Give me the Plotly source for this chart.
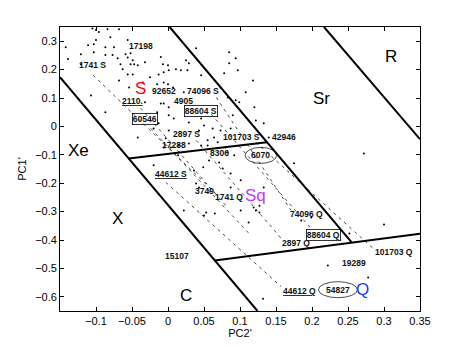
import plotly.graph_objects as go

# ---- scattered sample points (PC2', PC1') ----
dot_x = [-0.142,-0.139,-0.121,-0.121,-0.111,-0.105,-0.103,-0.103,-0.100,-0.100,-0.096,-0.087,-0.087,-0.084,
         -0.080,-0.077,-0.075,-0.070,-0.068,-0.068,-0.066,-0.063,-0.059,-0.056,-0.056,-0.056,-0.054,-0.052,
         -0.052,-0.049,-0.049,-0.047,-0.042,-0.035,-0.032,-0.025,-0.015,-0.010,-0.007,-0.006,0.000,0.000,
         0.001,0.007,0.011,0.018,0.027,-0.013,
         -0.107,-0.087,-0.042,-0.032,-0.010,
         -0.006,0.025,0.029,0.039,0.046,0.022,0.085,0.094,0.085,0.078,0.097,0.073,0.108,0.118,0.083,0.094,
         0.099,0.120,0.090,0.133,0.122,0.140,-0.006,0.001,-0.015,0.001,0.008,-0.013,-0.020,0.001,0.029,
         0.046,0.050,0.043,0.062,0.073,0.087,0.064,0.055,0.046,0.080,-0.003,-0.006,
         -0.020,0.036,0.049,0.057,0.071,0.076,0.087,0.092,0.039,0.043,0.087,0.101,0.022,0.053,0.101,0.119,
         0.122,0.127,0.004,0.015,0.029,0.055,0.069,0.014,0.083,
         0.065,0.112,0.132,0.133,0.050,0.127,0.185,0.199,0.222,0.278,0.300,0.175,0.272,0.252]
dot_y = [0.279,0.237,0.254,0.219,0.286,0.345,0.289,0.261,0.339,0.304,0.332,0.279,0.251,0.342,
         0.314,0.251,0.279,0.240,0.342,0.162,0.219,0.201,0.254,0.304,0.243,0.183,0.137,0.219,
         0.258,0.233,0.183,0.219,0.215,0.155,0.226,0.173,0.148,0.244,0.219,0.155,0.215,0.148,
         0.198,0.137,0.201,0.198,0.198,0.183,
         0.109,0.050,-0.039,0.085,0.081,
         0.191,0.233,0.222,0.275,0.180,0.120,0.261,0.240,0.222,0.187,0.198,0.137,0.120,0.162,0.102,0.092,
         0.085,0.067,0.039,0.011,0.021,-0.039,0.081,0.067,0.050,0.039,0.028,0.011,-0.007,-0.014,0.014,
         0.028,0.003,-0.014,-0.007,-0.014,-0.007,-0.039,-0.049,-0.067,-0.074,-0.042,-0.074,
         -0.137,-0.155,-0.144,-0.120,-0.127,-0.148,-0.166,-0.102,-0.201,-0.215,-0.215,-0.190,-0.296,-0.303,
         -0.296,-0.286,-0.296,-0.303,-0.074,-0.067,-0.060,-0.067,-0.056,-0.102,-0.091,
         -0.307,-0.338,-0.607,-0.215,-0.314,-0.279,-0.331,-0.321,-0.490,-0.532,-0.345,-0.130,-0.095,-0.377]

# ---- thick region boundaries (start x, end x, start y, end y) ----
bound_x0 = [-0.15, 0.0023, 0.2167, -0.0546, 0.065]
bound_x1 = [0.1243, 0.2554, 0.35, 0.1375, 0.35]
bound_y0 = [0.173, 0.35, 0.35, -0.113, -0.472]
bound_y1 = [-0.65, -0.409, -0.045, -0.0555, -0.378]

# ---- dashed S -> Q paths ----
dash_x0 = [-0.104, -0.038, -0.024, -0.003, 0.039, 0.067, 0.060, 0.122]
dash_y0 = [0.180, 0.064, -0.007, -0.197, -0.049, 0.102, 0.043, -0.056]
dash_x1 = [0.066, 0.080, 0.115, 0.157, 0.160, 0.171, 0.199, 0.285]
dash_y1 = [-0.236, -0.278, -0.384, -0.564, -0.402, -0.296, -0.360, -0.430]

# ---- sample labels ----
lab_text = ["17198", "1741 S", "92652", "74096 S", "4905", "88604 S", "2110.", "60546",
            "2897 S", "101703 S", "42946", "17288", "8306", "6070", "44612 S", "3749",
            "1741 Q", "74096 Q", "88604 Q", "2897 Q", "101703 Q", "19289", "44612 Q",
            "54827", "15107"]
lab_x = [-0.037, -0.105, -0.006, 0.048, 0.022, 0.046, -0.049, -0.032,
         0.026, 0.102, 0.161, 0.008, 0.071, 0.129, 0.004, 0.050,
         0.085, 0.193, 0.216, 0.178, 0.314, 0.259, 0.183,
         0.236, 0.013]
lab_y = [0.282, 0.215, 0.124, 0.124, 0.089, 0.056, 0.088, 0.025,
         -0.028, -0.039, -0.039, -0.067, -0.095, -0.102, -0.166, -0.229,
         -0.247, -0.310, -0.381, -0.412, -0.441, -0.480, -0.578,
         -0.575, -0.455]
lab_style = ["", "", "", "", "", "box", "u", "box",
             "", "", "", "", "", "ell", "u", "",
             "", "", "box", "", "", "", "u",
             "ell", ""]

# ---- region names ----
reg_text = ["S", "Sr", "R", "Xe", "X", "C", "Sq", "Q"]
reg_x = [-0.038, 0.213, 0.310, -0.124, -0.070, 0.025, 0.121, 0.270]
reg_y = [0.134, 0.099, 0.247, -0.084, -0.324, -0.596, -0.243, -0.575]
reg_color = ["#ff0000", "black", "black", "black", "black", "black", "#cc33ff", "#1a3cff"]

xtick_vals = [-0.1, -0.05, 0, 0.05, 0.1, 0.15, 0.2, 0.25, 0.3, 0.35]
xtick_text = ["\u22120.1", "\u22120.05", "0", "0.05", "0.1", "0.15", "0.2", "0.25", "0.3", "0.35"]
ytick_vals = [0.3, 0.2, 0.1, 0, -0.1, -0.2, -0.3, -0.4, -0.5, -0.6]
ytick_text = ["0.3", "0.2", "0.1", "0", "\u22120.1", "\u22120.2", "\u22120.3", "\u22120.4", "\u22120.5", "\u22120.6"]

FONT = "Liberation Sans, Arial, Helvetica, sans-serif"

fig = go.Figure()

# dashed paths
for i in range(len(dash_x0)):
    fig.add_trace(go.Scatter(x=[dash_x0[i], dash_x1[i]], y=[dash_y0[i], dash_y1[i]],
                             mode="lines", line=dict(color="black", width=0.7, dash="3px,4px"),
                             hoverinfo="skip", showlegend=False))

# boundaries
for i in range(len(bound_x0)):
    fig.add_trace(go.Scatter(x=[bound_x0[i], bound_x1[i]], y=[bound_y0[i], bound_y1[i]],
                             mode="lines", line=dict(color="black", width=2),
                             hoverinfo="skip", showlegend=False))

# points
fig.add_trace(go.Scatter(x=dot_x, y=dot_y, mode="markers",
                         marker=dict(color="black", size=2), showlegend=False))

annotations = []
shapes = []
for t, x, y, s in zip(lab_text, lab_x, lab_y, lab_style):
    txt = f"<u>{t}</u>" if s == "u" else t
    ann = dict(x=x, y=y, text=f"<b>{txt}</b>", showarrow=False, xref="x", yref="y",
               font=dict(family=FONT, size=8.5, color="#111111"))
    if s == "box":
        ann.update(bordercolor="black", borderwidth=0.8, borderpad=0)
    annotations.append(ann)
    if s == "ell":
        half = 3.7 * len(t) + 1
        shapes.append(dict(type="circle", xref="x", yref="y", xsizemode="pixel", ysizemode="pixel",
                           xanchor=x, yanchor=y, x0=-half, x1=half, y0=-8, y1=8,
                           line=dict(color="black", width=0.7)))

for t, x, y, c in zip(reg_text, reg_x, reg_y, reg_color):
    annotations.append(dict(x=x, y=y, text=t, showarrow=False, xref="x", yref="y",
                            font=dict(family=FONT, size=17, color=c)))

fig.update_layout(
    width=463, height=348,
    margin=dict(l=52, r=51, t=19, b=45),
    paper_bgcolor="white", plot_bgcolor="white",
    annotations=annotations, shapes=shapes,
    font=dict(family=FONT, size=11, color="black"),
    xaxis=dict(range=[-0.15, 0.35], tickvals=xtick_vals, ticktext=xtick_text, automargin=False,
               ticks="inside", ticklen=4, tickcolor="black", showgrid=False, zeroline=False,
               showline=True, linecolor="black", linewidth=0.8, mirror="ticks",
               title=dict(text="PC2'", standoff=0, font=dict(size=11))),
    yaxis=dict(range=[-0.65, 0.35], tickvals=ytick_vals, ticktext=ytick_text, automargin=False,
               ticks="inside", ticklen=4, tickcolor="black", showgrid=False, zeroline=False,
               showline=True, linecolor="black", linewidth=0.8, mirror="ticks",
               title=dict(text="PC1'", standoff=6, font=dict(size=11))),
)

fig.write_html("out.html")
